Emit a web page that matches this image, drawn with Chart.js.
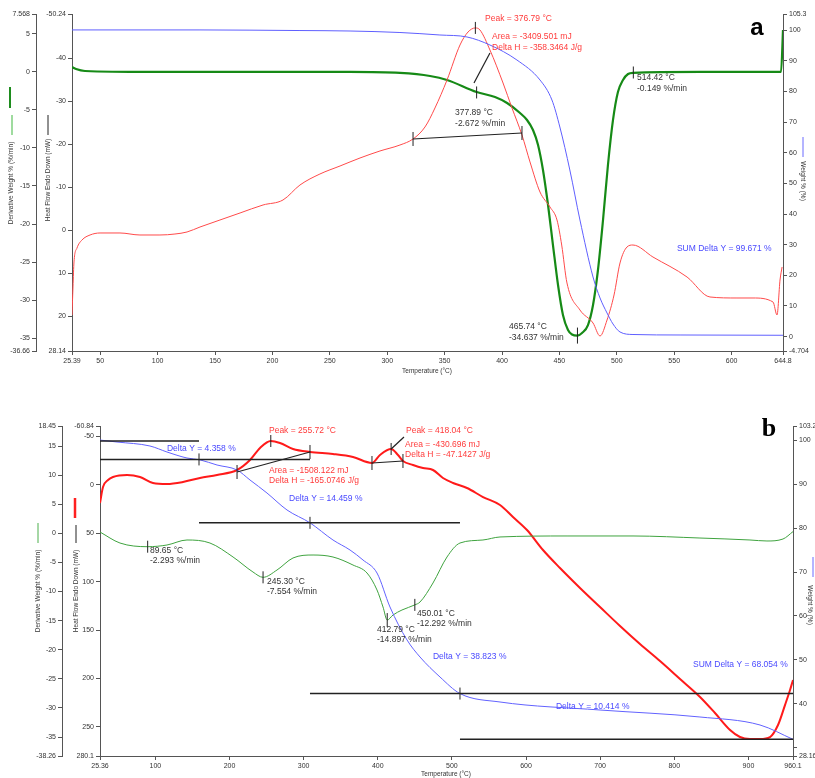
<!DOCTYPE html>
<html>
<head>
<meta charset="utf-8">
<script src="https://cdn.jsdelivr.net/npm/chart.js@4.4.1/dist/chart.umd.min.js"></script>
<style>
  html, body { margin: 0; padding: 0; background: #fff; }
  #chartA { position: absolute; left: 0; top: 0; }
  #chartB { position: absolute; left: 0; top: 380px; }
</style>
</head>
<body>
<canvas id="chartA" width="815" height="380"></canvas>
<canvas id="chartB" width="815" height="398"></canvas>
<script>
// ======================== DATA: PANEL a ========================
const aTempTicks = [25.39, 50, 100, 150, 200, 250, 300, 350, 400, 450, 500, 550, 600, 644.8];
const aDerivTicks = [7.568, 5, 0, -5, -10, -15, -20, -25, -30, -35, -36.66];
const aHeatTicks = [-50.24, -40, -30, -20, -10, 0, 10, 20, 28.14];
const aWeightTicks = [105.3, 100, 90, 80, 70, 60, 50, 40, 30, 20, 10, 0, -4.704];

// heat flow (mW)
const aHeatT = [25.39, 26.26, 27.13, 29.75, 34.1, 41.1, 49.8, 67.2, 84.6, 102.0, 115.1, 125.6, 136.9, 154.3, 171.8, 191.8, 209.2, 224.0, 241.4, 258.9, 276.3, 293.7, 311.1, 322.5, 332.9, 341.6, 352.1, 363.4, 370.4, 376.79, 380.8, 389.5, 400.9, 408.7, 417.4, 424.4, 433.1, 441.8, 447.9, 452.0, 456.6, 467.9, 479.3, 485.4, 491.5, 497.6, 502.8, 508.9, 514.1, 531.5, 561.2, 581.2, 604.7, 618.7, 636.1, 639.6, 642.2, 644.0];
const aHeatV = [19.77, 13.25, 7.44, 4.18, 2.32, 1.16, 0.69, 0.69, 1.16, 1.16, 0.93, 0.46, -0.70, -2.33, -3.96, -5.82, -6.98, -10.47, -13.03, -14.89, -16.75, -18.38, -19.77, -21.17, -23.96, -28.38, -34.89, -43.03, -46.05, -47.0, -46.52, -41.87, -34.19, -28.38, -22.10, -15.82, -8.84, -5.35, -2.33, 3.49, 12.32, 18.6, 21.63, 24.65, 20.93, 15.11, 7.67, 3.95, 3.49, 6.28, 10.93, 15.58, 15.81, 15.81, 16.74, 19.77, 11.63, 8.60];

// derivative weight (%/min)
const aDerivT = [25.39, 28.9, 36.7, 93.3, 180.5, 267.6, 311.1, 337.3, 352.1, 377.89, 393.9, 404.4, 415.7, 421.8, 427.0, 431.4, 435.7, 440.1, 444.4, 448.8, 453.1, 457.5, 461.0, 465.74, 469.7, 474.9, 479.3, 483.6, 488.0, 492.3, 496.7, 501.0, 505.4, 509.8, 514.42, 572.5, 643.1, 644.8];
const aDerivV = [0.61, 0.35, 0.09, -0.04, -0.04, -0.04, -0.17, -0.57, -1.09, -2.672, -3.33, -4.11, -5.42, -6.34, -7.66, -9.62, -12.90, -17.50, -22.75, -28.0, -31.93, -33.90, -34.50, -34.637, -34.3, -33.25, -30.62, -26.03, -19.47, -12.25, -6.34, -2.67, -1.09, -0.31, -0.149, -0.04, -0.04, 5.47];

// weight (%)
const aWeightT = [25.39, 136.9, 224.0, 267.6, 311.1, 345.9, 369.5, 389.5, 413.0, 433.1, 443.5, 450.4, 459.1, 467.9, 479.3, 485.4, 491.5, 496.7, 502.8, 514.1, 555.1, 644.8];
const aWeightV = [100.1, 100.1, 99.9, 99.75, 99.26, 98.45, 97.8, 95.18, 90.28, 83.76, 77.23, 68.41, 54.38, 38.06, 19.45, 12.60, 7.70, 4.11, 1.50, 0.68, 0.52, 0.43];

// ======================== DATA: PANEL b ========================
const bTempTicks = [25.36, 100, 200, 300, 400, 500, 600, 700, 800, 900, 960.1];
const bDerivTicks = [18.45, 15, 10, 5, 0, -5, -10, -15, -20, -25, -30, -35, -38.26];
const bHeatTicks = [-60.84, -50, 0, 50, 100, 150, 200, 250, 280.1];
const bWeightTicks = [103.2, 100, 90, 80, 70, 60, 50, 40, 30, 28.16];

const bHeatT = [25.36, 29.4, 36.2, 42.9, 61.8, 79.3, 96.8, 115.7, 137.3, 160.2, 183.2, 210.2, 227.7, 241.2, 255.72, 268.1, 285.7, 308.6, 339.6, 366.6, 392.2, 403.0, 418.04, 427.3, 434.0, 447.6, 461.0, 474.5, 488.0, 501.5, 520.4, 542.0, 564.9, 582.4, 601.3, 622.9, 645.8, 672.8, 699.8, 726.8, 753.7, 780.7, 807.7, 834.7, 854.9, 875.2, 888.6, 902.1, 915.6, 929.1, 939.9, 949.3, 956.1, 960.1];
const bHeatV = [18.71, 2.18, -5.05, -8.15, -10.22, -8.15, -1.95, -0.92, -2.98, -7.12, -10.22, -15.38, -25.71, -38.11, -45.34, -43.28, -37.08, -33.98, -31.91, -28.81, -22.61, -30.88, -37.08, -30.88, -24.68, -20.55, -17.45, -15.38, -7.12, -1.95, 3.21, 12.56, 20.78, 33.18, 46.61, 67.27, 85.87, 106.5, 126.2, 145.8, 164.4, 182.0, 200.5, 219.1, 235.7, 253.2, 260.5, 262.5, 262.5, 260.5, 248.1, 227.5, 211.9, 201.6];

const bDerivT = [25.36, 52.3, 89.65, 115.7, 142.7, 173.7, 204.8, 231.7, 245.3, 264.1, 285.7, 312.7, 339.6, 366.6, 385.5, 399.0, 407.1, 412.79, 420.6, 432.7, 450.01, 457.0, 474.5, 493.4, 510.9, 541.9, 564.9, 655.3, 744.3, 834.6, 902.1, 925.0, 946.6, 960.1];
const bDerivV = [0.23, -1.66, -2.293, -2.0, -1.14, -1.66, -4.06, -6.64, -7.554, -6.30, -4.23, -3.72, -4.06, -5.44, -6.81, -9.73, -12.65, -14.897, -14.03, -13.17, -12.292, -11.80, -8.53, -4.06, -1.66, -1.14, -0.62, -0.45, -0.45, -0.80, -1.14, -1.31, -0.97, 0.3];

const bWeightT = [25.36, 48.3, 92.8, 115.7, 142.7, 160.2, 183.2, 210.2, 227.7, 250.6, 277.6, 308.6, 339.6, 362.6, 380.1, 399.0, 416.5, 439.5, 457.0, 484.0, 510.9, 564.9, 699.8, 834.6, 915.6, 960.1];
const bWeightV = [100.0, 99.56, 98.65, 97.29, 95.92, 95.5, 94.33, 93.19, 90.92, 87.96, 84.10, 81.18, 77.28, 75.0, 72.73, 69.77, 62.04, 54.54, 50.67, 46.12, 42.36, 40.44, 38.62, 37.03, 35.21, 31.95];

// ======================== STYLE ========================
const FONT = '"Liberation Sans", Arial, sans-serif';
const AX = '#555';
const TXT = '#333';
const RED_TXT = '#ff3b3b';
const BLUE_TXT = '#4a4aff';

// ======================== HELPERS ========================
function axisY(pos, min, max, ticks, width, weight, reverse, blank) {
  return {
    type: 'linear', position: pos, min: min, max: max, reverse: !!reverse, weight: weight,
    grid: { display: true, drawOnChartArea: false, drawTicks: true, tickLength: 4, color: AX },
    border: { display: true, color: AX, width: 1 },
    ticks: {
      font: { size: 7, family: FONT }, color: TXT, padding: 2, autoSkip: false,
      callback: v => (blank || []).includes(v) ? '' : String(v)
    },
    afterBuildTicks: s => { s.ticks = ticks.map(v => ({ value: v })); },
    afterFit: s => { s.width = width; }
  };
}

function axisX(min, max, ticks, height) {
  return {
    type: 'linear', position: 'bottom', min: min, max: max,
    grid: { display: true, drawOnChartArea: false, drawTicks: true, tickLength: 4, color: AX },
    border: { display: true, color: AX, width: 1 },
    ticks: { font: { size: 7, family: FONT }, color: TXT, padding: 2, autoSkip: false, maxRotation: 0, callback: v => String(v) },
    afterBuildTicks: s => { s.ticks = ticks.map(v => ({ value: v })); },
    afterFit: s => { s.height = height; }
  };
}

function series(T, V, axis, color, width) {
  return {
    data: T.map((t, i) => ({ x: t, y: V[i] })),
    yAxisID: axis, borderColor: color, borderWidth: width,
    pointRadius: 0, fill: false, cubicInterpolationMode: 'monotone'
  };
}

// annotations drawn through the chart scales
function annoPlugin(items) {
  return {
    id: 'anno',
    afterDatasetsDraw(chart) {
      const ctx = chart.ctx;
      const sx = chart.scales.x;
      ctx.save();
      items.forEach(it => {
        const sy = chart.scales[it.axis];
        if (it.type === 'text') {
          ctx.font = (it.size || 8.5) + 'px ' + FONT;
          ctx.fillStyle = it.color;
          ctx.textAlign = 'left';
          ctx.textBaseline = 'middle';
          const px = sx.getPixelForValue(it.x), py = sy.getPixelForValue(it.y);
          it.lines.forEach((t, i) => ctx.fillText(t, px, py + i * (it.lh || 11)));
        } else if (it.type === 'line') {
          ctx.strokeStyle = it.color || '#222';
          ctx.lineWidth = it.width || 1.2;
          ctx.beginPath();
          ctx.moveTo(sx.getPixelForValue(it.x1), sy.getPixelForValue(it.y1));
          ctx.lineTo(sx.getPixelForValue(it.x2), sy.getPixelForValue(it.y2));
          ctx.stroke();
        } else if (it.type === 'tick') {
          const px = sx.getPixelForValue(it.x), py = sy.getPixelForValue(it.y);
          ctx.strokeStyle = it.color || '#222';
          ctx.lineWidth = 1;
          ctx.beginPath();
          ctx.moveTo(px, py - (it.len || 6));
          ctx.lineTo(px, py + (it.len || 6));
          ctx.stroke();
        }
      });
      ctx.restore();
    }
  };
}

function rotText(ctx, text, x, y, rot, size) {
  ctx.save();
  ctx.translate(x, y);
  ctx.rotate(rot);
  ctx.font = size + 'px ' + FONT;
  ctx.fillStyle = TXT;
  ctx.textAlign = 'center';
  ctx.textBaseline = 'middle';
  ctx.fillText(text, 0, 0);
  ctx.restore();
}

function swatch(ctx, x, y1, y2, color, w) {
  ctx.save();
  ctx.strokeStyle = color;
  ctx.lineWidth = w;
  ctx.beginPath();
  ctx.moveTo(x, y1);
  ctx.lineTo(x, y2);
  ctx.stroke();
  ctx.restore();
}

// ======================== PANEL a ========================
const aAnno = [
  { type: 'text', axis: 'yH', x: 385.2, y: -49.08, color: RED_TXT, lines: ['Peak = 376.79 °C'] },
  { type: 'text', axis: 'yH', x: 391.3, y: -44.89, color: RED_TXT, lines: ['Area = -3409.501 mJ', 'Delta H = -358.3464 J/g'] },
  { type: 'tick', axis: 'yH', x: 376.79, y: -47.0, len: 6 },
  { type: 'line', axis: 'yD', x1: 375.6, y1: -1.49, x2: 389.5, y2: 2.45 },
  { type: 'tick', axis: 'yD', x: 377.89, y: -2.73, len: 6 },
  { type: 'text', axis: 'yD', x: 359.1, y: -5.42, color: TXT, lines: ['377.89 °C', '-2.672 %/min'] },
  { type: 'line', axis: 'yH', x1: 322.5, y1: -21.17, x2: 417.4, y2: -22.56 },
  { type: 'tick', axis: 'yH', x: 322.5, y: -21.17, len: 7 },
  { type: 'tick', axis: 'yH', x: 417.4, y: -22.56, len: 7 },
  { type: 'tick', axis: 'yD', x: 514.42, y: -0.11, len: 6 },
  { type: 'text', axis: 'yD', x: 517.6, y: -0.83, color: TXT, lines: ['514.42 °C', '-0.149 %/min'] },
  { type: 'tick', axis: 'yD', x: 465.74, y: -34.637, len: 8 },
  { type: 'text', axis: 'yD', x: 406.1, y: -33.51, color: TXT, lines: ['465.74 °C', '-34.637 %/min'] },
  { type: 'text', axis: 'yW', x: 552.4, y: 28.6, color: BLUE_TXT, lines: ['SUM Delta Y = 99.671 %'] }
];

const frameA = {
  id: 'frameA',
  afterDraw(chart) {
    const ctx = chart.ctx;
    swatch(ctx, 10, 87, 108, '#1e8c1e', 2);
    swatch(ctx, 12, 115, 135, '#7fcf7f', 1.5);
    rotText(ctx, 'Derivative Weight % (%/min)', 11, 183, -Math.PI / 2, 6.5);
    swatch(ctx, 48, 115, 135, '#222', 1);
    rotText(ctx, 'Heat Flow Endo Down (mW)', 48, 180, -Math.PI / 2, 6.5);
    swatch(ctx, 803, 137, 157, '#6b6bff', 1);
    rotText(ctx, 'Weight % (%)', 803, 181, Math.PI / 2, 6.5);
    rotText(ctx, 'Temperature (°C)', 427, 371, 0, 6.5);
    ctx.save();
    ctx.font = 'bold 24px ' + FONT;
    ctx.fillStyle = '#000';
    ctx.textAlign = 'center';
    ctx.textBaseline = 'middle';
    ctx.fillText('a', 757, 28);
    ctx.restore();
  }
};

new Chart(document.getElementById('chartA'), {
  type: 'line',
  data: {
    datasets: [
      series(aWeightT, aWeightV, 'yW', '#5f5fff', 1),
      series(aHeatT, aHeatV, 'yH', '#ff4a4a', 1),
      series(aDerivT, aDerivV, 'yD', '#168a16', 2.2)
    ]
  },
  options: {
    responsive: false, animation: false,
    layout: { padding: { top: 14, left: 0, right: 0, bottom: 0 } },
    plugins: { legend: { display: false }, tooltip: { enabled: false } },
    scales: {
      x: axisX(25.39, 644.8, aTempTicks, 29),
      yD: axisY('left', -36.66, 7.568, aDerivTicks, 36, 10, false),
      yH: axisY('left', -50.24, 28.14, aHeatTicks, 36, 0, true),
      yW: axisY('right', -4.704, 105.3, aWeightTicks, 32, 0, false)
    }
  },
  plugins: [annoPlugin(aAnno), frameA]
});

// ======================== PANEL b ========================
const bAnno = [
  { type: 'line', axis: 'yW', x1: 25.36, y1: 99.8, x2: 158.9, y2: 99.8, width: 1.5 },
  { type: 'line', axis: 'yW', x1: 25.36, y1: 95.6, x2: 308.6, y2: 95.6, width: 1.5 },
  { type: 'line', axis: 'yW', x1: 158.9, y1: 81.18, x2: 510.9, y2: 81.18, width: 1.5 },
  { type: 'line', axis: 'yW', x1: 308.6, y1: 42.36, x2: 960.1, y2: 42.36, width: 1.5 },
  { type: 'line', axis: 'yW', x1: 510.9, y1: 31.95, x2: 960.1, y2: 31.95, width: 1.5 },
  { type: 'tick', axis: 'yW', x: 158.9, y: 95.6, len: 6 },
  { type: 'tick', axis: 'yW', x: 308.6, y: 81.18, len: 6 },
  { type: 'tick', axis: 'yW', x: 510.9, y: 42.36, len: 6 },
  { type: 'text', axis: 'yW', x: 115.7, y: 97.97, color: BLUE_TXT, lines: ['Delta Y = 4.358 %'] },
  { type: 'text', axis: 'yW', x: 280.3, y: 86.6, color: BLUE_TXT, lines: ['Delta Y = 14.459 %'] },
  { type: 'text', axis: 'yW', x: 474.5, y: 50.67, color: BLUE_TXT, lines: ['Delta Y = 38.823 %'] },
  { type: 'text', axis: 'yW', x: 825.2, y: 48.85, color: BLUE_TXT, lines: ['SUM Delta Y = 68.054 %'] },
  { type: 'text', axis: 'yW', x: 640.4, y: 39.3, color: BLUE_TXT, lines: ['Delta Y = 10.414 %'] },
  { type: 'text', axis: 'yH', x: 253.3, y: -55.67, color: RED_TXT, lines: ['Peak = 255.72 °C'] },
  { type: 'tick', axis: 'yH', x: 255.72, y: -45.34, len: 6 },
  { type: 'line', axis: 'yH', x1: 210.2, y1: -13.31, x2: 308.6, y2: -33.98 },
  { type: 'tick', axis: 'yH', x: 210.2, y: -13.31, len: 7 },
  { type: 'tick', axis: 'yH', x: 308.6, y: -33.98, len: 7 },
  { type: 'text', axis: 'yH', x: 253.3, y: -14.35, color: RED_TXT, lh: 10, lines: ['Area = -1508.122 mJ', 'Delta H = -165.0746 J/g'] },
  { type: 'text', axis: 'yH', x: 438.1, y: -55.67, color: RED_TXT, lines: ['Peak = 418.04 °C'] },
  { type: 'tick', axis: 'yH', x: 418.04, y: -37.08, len: 6 },
  { type: 'line', axis: 'yH', x1: 418.04, y1: -37.08, x2: 435.4, y2: -49.48 },
  { type: 'text', axis: 'yH', x: 436.8, y: -41.21, color: RED_TXT, lh: 10, lines: ['Area = -430.696 mJ', 'Delta H = -47.1427 J/g'] },
  { type: 'line', axis: 'yH', x1: 392.2, y1: -22.61, x2: 434.0, y2: -24.68 },
  { type: 'tick', axis: 'yH', x: 392.2, y: -22.61, len: 7 },
  { type: 'tick', axis: 'yH', x: 434.0, y: -24.68, len: 7 },
  { type: 'tick', axis: 'yD', x: 89.65, y: -2.293, len: 6 },
  { type: 'tick', axis: 'yD', x: 245.3, y: -7.554, len: 6 },
  { type: 'tick', axis: 'yD', x: 412.79, y: -14.897, len: 7 },
  { type: 'tick', axis: 'yD', x: 450.01, y: -12.292, len: 6 },
  { type: 'text', axis: 'yD', x: 92.8, y: -3.03, color: TXT, lh: 10, lines: ['89.65 °C', '-2.293 %/min'] },
  { type: 'text', axis: 'yD', x: 250.6, y: -8.36, color: TXT, lh: 10, lines: ['245.30 °C', '-7.554 %/min'] },
  { type: 'text', axis: 'yD', x: 399.0, y: -16.61, color: TXT, lh: 10, lines: ['412.79 °C', '-14.897 %/min'] },
  { type: 'text', axis: 'yD', x: 452.9, y: -13.86, color: TXT, lh: 10, lines: ['450.01 °C', '-12.292 %/min'] }
];

const frameB = {
  id: 'frameB',
  afterDraw(chart) {
    const ctx = chart.ctx;
    swatch(ctx, 38, 143, 163, '#4caf4c', 1);
    rotText(ctx, 'Derivative Weight % (%/min)', 38, 211, -Math.PI / 2, 6.5);
    swatch(ctx, 75, 118, 138, '#ff2020', 2.5);
    swatch(ctx, 76, 145, 163, '#222', 1);
    rotText(ctx, 'Heat Flow Endo Down (mW)', 76, 211, -Math.PI / 2, 6.5);
    swatch(ctx, 813, 177, 197, '#6b6bff', 1);
    rotText(ctx, 'Weight % (%)', 810, 225, Math.PI / 2, 6.5);
    rotText(ctx, 'Temperature (°C)', 446, 394, 0, 6.5);
    ctx.save();
    ctx.font = 'bold 26px "Liberation Serif", "Times New Roman", serif';
    ctx.fillStyle = '#000';
    ctx.textAlign = 'center';
    ctx.textBaseline = 'middle';
    ctx.fillText('b', 769, 49);
    ctx.restore();
  }
};

new Chart(document.getElementById('chartB'), {
  type: 'line',
  data: {
    datasets: [
      series(bWeightT, bWeightV, 'yW', '#6262ff', 1),
      series(bDerivT, bDerivV, 'yD', '#3fa33f', 1),
      series(bHeatT, bHeatV, 'yH', '#ff1a1a', 2)
    ]
  },
  options: {
    responsive: false, animation: false,
    layout: { padding: { top: 46, left: 0, right: 0, bottom: 0 } },
    plugins: { legend: { display: false }, tooltip: { enabled: false } },
    scales: {
      x: axisX(25.36, 960.1, bTempTicks, 22),
      yD: axisY('left', -38.26, 18.45, bDerivTicks, 62, 10, false),
      yH: axisY('left', -60.84, 280.1, bHeatTicks, 38, 0, true),
      yW: axisY('right', 28.16, 103.2, bWeightTicks, 22, 0, false, [30])
    }
  },
  plugins: [annoPlugin(bAnno), frameB]
});
</script>
</body>
</html>
